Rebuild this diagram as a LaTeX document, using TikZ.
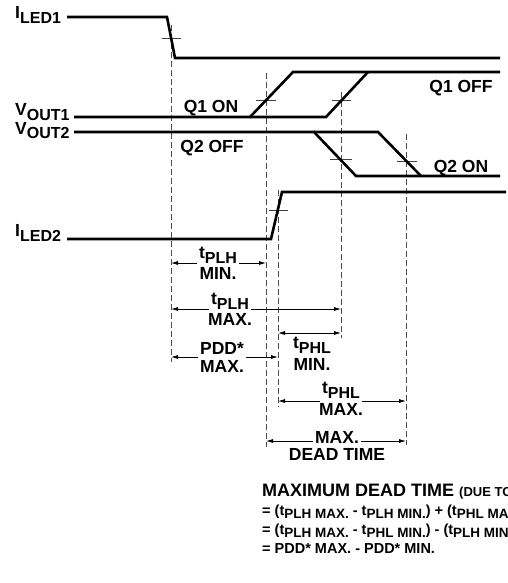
\documentclass[tikz,border=0pt]{standalone}
\usepackage{fontspec}
\setmainfont{Liberation Sans}
\usetikzlibrary{arrows.meta}
\newcommand\bigf{\fontsize{17.5}{20}\selectfont\bfseries}
\newcommand\smf{\fontsize{14.5}{16}\selectfont\bfseries}
\newcommand\sbs[1]{\raisebox{-5pt}{\fontsize{16}{16}\selectfont #1}}
\newcommand\sbsm[1]{\raisebox{-3.5pt}{\fontsize{13.5}{14}\selectfont #1}}
\begin{document}
\begin{tikzpicture}[x=1pt,y=-1pt,
  sig/.style={line width=2.6pt},
  guide/.style={line width=0.8pt, black!70, dash pattern=on 6pt off 3pt},
  tick/.style={line width=0.8pt, black!75},
  dim/.style={line width=0.8pt, -{Latex[length=7pt,width=4pt]}},
  dimb/.style={line width=0.8pt, {Latex[length=7pt,width=4pt]}-{Latex[length=7pt,width=4pt]}},
  lbl/.style={font=\bigf, inner sep=2pt},
  eq/.style={font=\smf, inner sep=0pt, anchor=base west}]
\useasboundingbox (0,0) rectangle (508,583);
\clip (0,0) rectangle (508,583);
% signal labels
\node[lbl, anchor=base west, inner sep=0pt] (iled1) at (15,19) {I\sbs{LED1}};
\node[lbl, anchor=base west, inner sep=0pt] (vout1) at (15,116) {V\sbs{OUT1}};
\node[lbl, anchor=base west, inner sep=0pt] (vout2) at (15,134) {V\sbs{OUT2}};
\node[lbl, anchor=base west, inner sep=0pt] (iled2) at (15,236) {I\sbs{LED2}};
\node[lbl, anchor=base] (q1on) at (211,113) {Q1 ON};
\node[lbl, anchor=base] (q2off) at (212,152) {Q2 OFF};
\node[lbl, anchor=base] (q1off) at (461,93) {Q1 OFF};
\node[lbl, anchor=base] (q2on) at (461,172) {Q2 ON};
% guide lines
\draw[guide] (171,25) -- (171,362);
\draw[guide] (266,73) -- (266,447);
\draw[guide] (278,190) -- (278,407);
\draw[guide] (341,92) -- (341,338);
\draw[guide] (406,134) -- (406,445);
% ticks
\draw[tick] (162,38) -- (181,38);
\draw[tick] (256,100) -- (276,100);
\draw[tick] (332,100) -- (351,100);
\draw[tick] (330,159) -- (352,159);
\draw[tick] (397,161) -- (417,161);
\draw[tick] (269,210) -- (288,210);
% waveforms
\draw[sig] (67,17) -- (167,17) -- (175,58) -- (500,58);
\draw[sig] (74,117) -- (250,117) -- (293,72) -- (500,72);
\draw[sig] (250,117) -- (326,117) -- (368,72);
\draw[sig] (74,132) -- (314,132) -- (356,176) -- (500,176);
\draw[sig] (314,132) -- (378,132) -- (421,176);
\draw[sig] (67,239) -- (271,239) -- (282,192) -- (506,192);
% tPLH MIN
\coordinate (a1L) at (171,263); \coordinate (a1R) at (266,263);
\node[lbl, anchor=base] (a1) at (218,258) {t\sbs{PLH}};
\node[lbl, anchor=base] (a1b) at (218,279) {MIN.};
\draw[dim] (a1.west |- a1L) -- (a1L);
\draw[dim] (a1.east |- a1R) -- (a1R);
% tPLH MAX
\coordinate (a2L) at (171,309); \coordinate (a2R) at (341,309);
\node[lbl, anchor=base] (a2) at (230,304) {t\sbs{PLH}};
\node[lbl, anchor=base] (a2b) at (230,325) {MAX.};
\draw[dim] (a2.west |- a2L) -- (a2L);
\draw[dim] (a2.east |- a2R) -- (a2R);
% tPHL MIN
\coordinate (a3L) at (278,333); \coordinate (a3R) at (341,333);
\node[lbl, anchor=base] (a3) at (312,348) {t\sbs{PHL}};
\node[lbl, anchor=base] (a3b) at (312,370) {MIN.};
\draw[dimb] (a3L) -- (a3R);
% PDD* MAX
\coordinate (a4L) at (171,357); \coordinate (a4R) at (278,357);
\node[lbl, anchor=base] (a4) at (222,354) {PDD*};
\node[lbl, anchor=base] (a4b) at (222,372) {MAX.};
\draw[dim] (a4.west |- a4L) -- (a4L);
\draw[dim] (a4.east |- a4R) -- (a4R);
% tPHL MAX
\coordinate (a5L) at (278,401); \coordinate (a5R) at (406,401);
\node[lbl, anchor=base] (a5) at (341,393) {t\sbs{PHL}};
\node[lbl, anchor=base] (a5b) at (341,415) {MAX.};
\draw[dim] (a5.west |- a5L) -- (a5L);
\draw[dim] (a5.east |- a5R) -- (a5R);
% MAX DEAD TIME
\coordinate (a6L) at (266,441); \coordinate (a6R) at (406,441);
\node[lbl, anchor=base] (a6) at (337,443) {MAX.};
\node[lbl, anchor=base] (a6b) at (337,460) {DEAD TIME};
\draw[dim] (a6.west |- a6L) -- (a6L);
\draw[dim] (a6.east |- a6R) -- (a6R);
% equations
\node[eq, font=\fontsize{18}{20}\selectfont\bfseries] (e1) at (262,496) {MAXIMUM DEAD TIME {\fontsize{13}{15}\selectfont (DUE TO}};
\node[eq] (e2) at (262,515) {= (t\sbsm{PLH MAX.} - t\sbsm{PLH MIN.}) + (t\sbsm{PHL MAX}};
\node[eq] (e3) at (262,534) {= (t\sbsm{PLH MAX.} - t\sbsm{PHL MIN.}) - (t\sbsm{PLH MIN.}};
\node[eq] (e4) at (262,553) {= PDD* MAX. - PDD* MIN.};
\end{tikzpicture}
\end{document}
